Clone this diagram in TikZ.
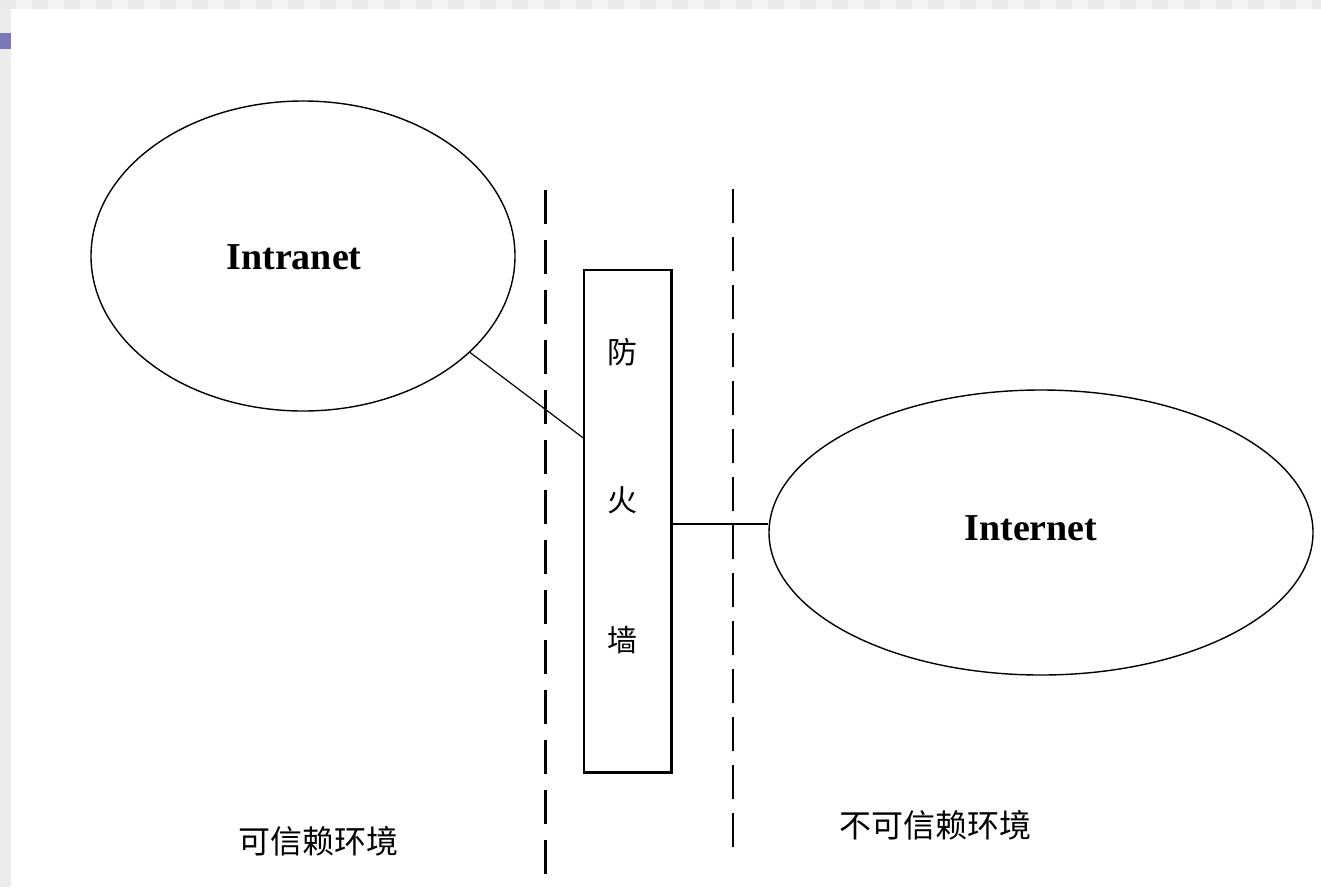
\documentclass[tikz,border=0pt]{standalone}
\usepackage{fontspec}
\setmainfont{Liberation Serif}
\newfontfamily\cjk{Noto Sans CJK SC}
\usetikzlibrary{shapes.geometric}
\definecolor{stripA}{HTML}{F4F4F4}
\definecolor{stripB}{HTML}{EAEAEA}
\definecolor{sidegray}{HTML}{ECECEC}
\definecolor{bullet}{HTML}{7B78B8}
\tikzset{
  net/.style={draw=black, line width=1.4pt, ellipse, inner sep=0pt},
  netlabel/.style={font=\fontsize{38}{40}\selectfont\bfseries, inner sep=0pt},
  cjklabel/.style={font=\cjk\fontsize{32}{34}\selectfont, inner sep=0pt},
  fwchar/.style={font=\cjk\fontsize{30}{32}\selectfont, inner sep=0pt},
  link/.style={draw=black, line width=1.2pt},
  thickdash/.style={draw=black, line width=3pt, dash pattern=on 34pt off 16pt},
  thindash/.style={draw=black, line width=1.5pt, dash pattern=on 34pt off 14pt},
}
\begin{document}
\begin{tikzpicture}[x=1pt, y=-1pt]
\useasboundingbox (0,0) rectangle (1321,887);
\fill[white] (0,0) rectangle (1321,887);
% frame strips
\fill[sidegray] (0,0) rectangle (11,887);
\foreach \i in {0,...,41} {
  \pgfmathsetmacro{\xa}{\i*32}
  \fill[stripB] (\xa,0) rectangle ++(16,9);
  \fill[stripA] (\xa+16,0) rectangle ++(16,9);
}
\fill[bullet] (0,33) rectangle (11,49);

% networks
\node[net, minimum width=424pt, minimum height=310pt] (intranet) at (303,256) {};
\node[netlabel] (intranetlbl) at (294,257) {Intranet};
\node[net, minimum width=544pt, minimum height=285pt] (internet) at (1041,532.5) {};
\node[netlabel] (internetlbl) at (1031,528) {Internet};

% firewall
\node[draw=black, line width=1.4pt, rectangle, minimum width=87pt, minimum height=502pt, inner sep=0pt] (fw) at (627.5,521) {};
\draw[line width=3pt] (fw.north east) -- (fw.south east) -- (fw.south west);
\node[fwchar] (c1) at (622,352) {防};
\node[fwchar] (c2) at (622,500) {火};
\node[fwchar] (c3) at (622,640) {墙};

% boundaries
\coordinate (d1t) at (545,190);
\coordinate (d1b) at (545,875);
\coordinate (d2t) at (733,189);
\coordinate (d2b) at (733,860);
\draw[thickdash] (d1t) -- (d1b);
\draw[thindash] (d2t) -- (d2b);

% links
\coordinate (l1) at (0,438);
\coordinate (l2) at (0,524);
\draw[link] (intranet.-30.6) -- (fw.west |- l1);
\draw[link] (fw.east |- l2) -- (internet.west |- l2);

% zone labels
\node[cjklabel] (trusted) at (318,841) {可信赖环境};
\node[cjklabel] (untrusted) at (935,825) {不可信赖环境};
\end{tikzpicture}
\end{document}
